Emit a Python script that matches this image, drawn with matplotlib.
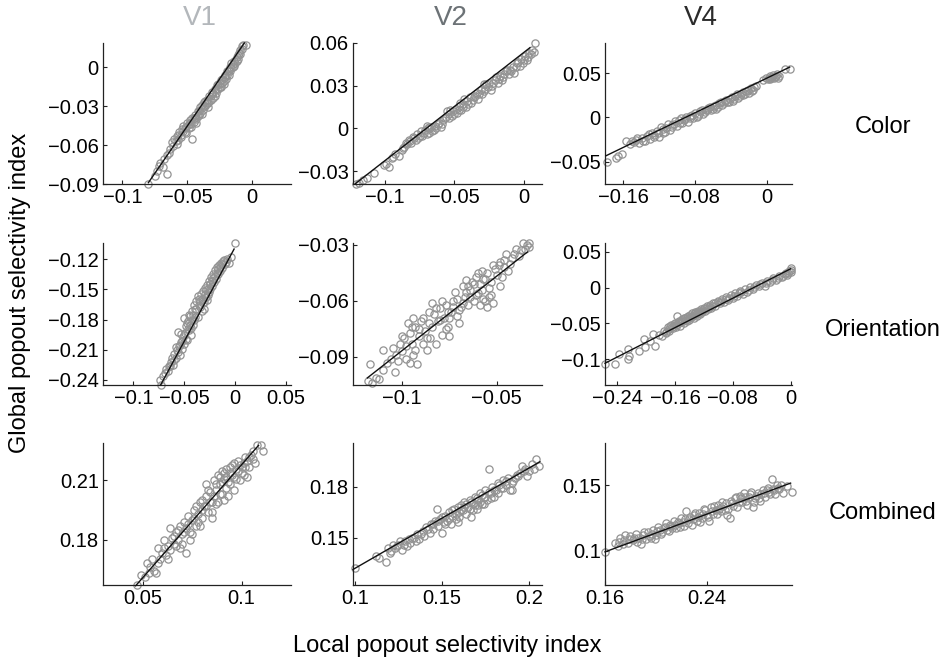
import matplotlib
matplotlib.use("Agg")
import matplotlib.pyplot as plt

plt.rcParams['font.family'] = ['Liberation Sans', 'DejaVu Sans']

# ---------------- data ----------------
areas = ["V1", "V2", "V4"]
features = ["Color", "Orientation", "Combined"]
area_colors = ["#b3b7bb", "#6c7276", "#2b2b2b"]

v1_color = [(-0.080,-0.090),(-0.075,-0.084),(-0.073,-0.080),(-0.072,-0.076),(-0.071,-0.074),(-0.069,-0.077),(-0.066,-0.082),(-0.068,-0.071),(-0.066,-0.068),(-0.064,-0.066),(-0.063,-0.063),(-0.061,-0.061),(-0.062,-0.058),(-0.060,-0.055),(-0.058,-0.053),(-0.057,-0.056),(-0.056,-0.050),(-0.055,-0.052),(-0.054,-0.048),(-0.053,-0.045),(-0.052,-0.050),(-0.051,-0.046),(-0.050,-0.043),(-0.049,-0.047),(-0.048,-0.041),(-0.047,-0.044),(-0.046,-0.055),(-0.046,-0.039),(-0.045,-0.042),(-0.044,-0.037),(-0.043,-0.040),(-0.042,-0.034),(-0.041,-0.037),(-0.040,-0.031),(-0.040,-0.035),(-0.039,-0.029),(-0.038,-0.033),(-0.037,-0.027),(-0.036,-0.030),(-0.035,-0.025),(-0.034,-0.028),(-0.033,-0.022),(-0.032,-0.025),(-0.031,-0.019),(-0.030,-0.024),(-0.029,-0.017),(-0.028,-0.020),(-0.027,-0.014),(-0.026,-0.017),(-0.025,-0.012),(-0.024,-0.015),(-0.023,-0.009),(-0.022,-0.011),(-0.021,-0.006),(-0.020,-0.009),(-0.019,-0.003),(-0.018,-0.006),(-0.017,0.000),(-0.016,-0.001),(-0.015,0.002),(-0.015,0.000),(-0.014,0.005),(-0.013,0.003),(-0.012,0.008),(-0.011,0.006),(-0.010,0.011),(-0.009,0.013),(-0.008,0.016),(-0.007,0.017),(-0.005,0.017)]
v1_color_b = [(-0.059,-0.057),(-0.057,-0.052),(-0.055,-0.054),(-0.053,-0.049),(-0.051,-0.051),(-0.049,-0.044),(-0.047,-0.046),(-0.045,-0.039),(-0.043,-0.043),(-0.041,-0.034),(-0.039,-0.036),(-0.037,-0.030),(-0.035,-0.028),(-0.033,-0.026),(-0.031,-0.021),(-0.029,-0.022),(-0.027,-0.017),(-0.025,-0.015),(-0.023,-0.012),(-0.021,-0.008),(-0.019,-0.006),(-0.017,-0.003),(-0.016,0.003),(-0.014,0.001),(-0.012,0.005),(-0.011,0.009),(-0.009,0.010),(-0.008,0.014),(-0.044,-0.039),(-0.048,-0.043),(-0.036,-0.026),(-0.030,-0.020),(-0.034,-0.031),(-0.026,-0.013),(-0.022,-0.013),(-0.058,-0.059),(-0.052,-0.047),(-0.042,-0.038),(-0.024,-0.010),(-0.018,-0.002)]

v2_color = [(-0.121,-0.039),(-0.119,-0.038),(-0.116,-0.036),(-0.113,-0.035),(-0.108,-0.031),(-0.101,-0.026),(-0.099,-0.025),(-0.097,-0.027),(-0.095,-0.021),(-0.093,-0.018),(-0.090,-0.019),(-0.088,-0.015),(-0.086,-0.013),(-0.084,-0.011),(-0.083,-0.008),(-0.081,-0.010),(-0.079,-0.007),(-0.077,-0.004),(-0.076,-0.007),(-0.074,-0.002),(-0.073,-0.005),(-0.071,-0.001),(-0.070,-0.004),(-0.069,0.000),(-0.068,-0.003),(-0.067,0.001),(-0.066,-0.002),(-0.064,0.002),(-0.063,0.000),(-0.061,0.004),(-0.060,0.001),(-0.058,0.006),(-0.056,0.008),(-0.055,0.012),(-0.054,0.010),(-0.053,0.013),(-0.052,0.009),(-0.051,0.012),(-0.049,0.014),(-0.048,0.011),(-0.047,0.016),(-0.046,0.018),(-0.045,0.013),(-0.044,0.017),(-0.043,0.021),(-0.042,0.015),(-0.041,0.019),(-0.039,0.022),(-0.038,0.018),(-0.036,0.022),(-0.034,0.025),(-0.033,0.021),(-0.031,0.027),(-0.030,0.024),(-0.029,0.031),(-0.028,0.028),(-0.026,0.029),(-0.025,0.032),(-0.023,0.030),(-0.021,0.034),(-0.019,0.032),(-0.017,0.037),(-0.015,0.036),(-0.013,0.040),(-0.011,0.038),(-0.010,0.041),(-0.008,0.043),(-0.007,0.039),(-0.005,0.046),(-0.003,0.044),(-0.002,0.049),(0.000,0.048),(0.001,0.051),(0.003,0.050),(0.004,0.053),(0.006,0.055),(0.008,0.060)]
v2_color_b = [(-0.094,-0.020),(-0.087,-0.014),(-0.085,-0.010),(-0.082,-0.009),(-0.080,-0.006),(-0.078,-0.008),(-0.075,-0.005),(-0.072,-0.003),(-0.070,0.002),(-0.068,0.001),(-0.065,-0.001),(-0.062,0.003),(-0.059,0.003),(-0.057,0.007),(-0.054,0.007),(-0.050,0.010),(-0.047,0.013),(-0.044,0.015),(-0.040,0.017),(-0.037,0.020),(-0.035,0.023),(-0.032,0.024),(-0.029,0.026),(-0.027,0.031),(-0.024,0.027),(-0.022,0.032),(-0.020,0.036),(-0.018,0.035),(-0.016,0.034),(-0.014,0.038),(-0.012,0.041),(-0.009,0.040),(-0.006,0.043),(-0.004,0.047),(-0.001,0.046),(0.002,0.048),(0.005,0.052),(0.007,0.054)]

v4_color = [(-0.178,-0.050),(-0.168,-0.046),(-0.166,-0.043),(-0.161,-0.041),(-0.157,-0.027),(-0.152,-0.030),(-0.148,-0.028),(-0.145,-0.025),(-0.142,-0.029),(-0.139,-0.023),(-0.136,-0.026),(-0.133,-0.021),(-0.130,-0.024),(-0.128,-0.017),(-0.125,-0.020),(-0.122,-0.015),(-0.120,-0.022),(-0.118,-0.011),(-0.115,-0.017),(-0.112,-0.012),(-0.110,-0.007),(-0.108,-0.014),(-0.105,-0.009),(-0.102,-0.004),(-0.100,-0.010),(-0.097,-0.006),(-0.095,-0.001),(-0.092,-0.003),(-0.090,0.001),(-0.088,-0.005),(-0.085,0.002),(-0.082,-0.001),(-0.080,0.005),(-0.077,0.002),(-0.074,0.007),(-0.071,0.004),(-0.068,0.009),(-0.065,0.011),(-0.062,0.008),(-0.059,0.013),(-0.056,0.010),(-0.053,0.016),(-0.050,0.014),(-0.047,0.019),(-0.044,0.017),(-0.041,0.021),(-0.038,0.019),(-0.035,0.024),(-0.032,0.022),(-0.029,0.027),(-0.026,0.025),(-0.023,0.030),(-0.020,0.028),(-0.018,0.033),(-0.015,0.031),(-0.012,0.035),(-0.004,0.042),(-0.001,0.045),(0.001,0.043),(0.003,0.047),(0.005,0.045),(0.007,0.048),(0.009,0.046),(0.011,0.049),(0.013,0.047),(0.020,0.055),(0.026,0.055)]
v4_color_b = [(-0.150,-0.027),(-0.144,-0.023),(-0.138,-0.027),(-0.131,-0.019),(-0.126,-0.022),(-0.121,-0.018),(-0.116,-0.013),(-0.113,-0.016),(-0.106,-0.011),(-0.103,-0.007),(-0.098,-0.003),(-0.094,-0.006),(-0.091,-0.002),(-0.086,-0.001),(-0.083,0.003),(-0.078,0.000),(-0.075,0.004),(-0.072,0.008),(-0.069,0.006),(-0.066,0.008),(-0.063,0.012),(-0.060,0.010),(-0.057,0.014),(-0.054,0.012),(-0.051,0.017),(-0.048,0.016),(-0.045,0.020),(-0.042,0.018),(-0.039,0.023),(-0.036,0.021),(-0.033,0.026),(-0.030,0.024),(-0.027,0.029),(-0.024,0.027),(-0.021,0.031),(-0.017,0.030),(-0.014,0.034),(0.004,0.043),(0.006,0.046),(0.008,0.044),(0.010,0.047),(0.012,0.045),(0.002,0.045)]

v1_orient = [(-0.073,-0.245),(-0.074,-0.240),(-0.071,-0.236),(-0.069,-0.233),(-0.068,-0.229),(-0.066,-0.231),(-0.065,-0.226),(-0.063,-0.222),(-0.062,-0.218),(-0.061,-0.225),(-0.060,-0.214),(-0.058,-0.218),(-0.057,-0.210),(-0.056,-0.192),(-0.055,-0.206),(-0.054,-0.215),(-0.053,-0.202),(-0.052,-0.209),(-0.051,-0.197),(-0.050,-0.178),(-0.050,-0.204),(-0.049,-0.193),(-0.048,-0.186),(-0.047,-0.200),(-0.046,-0.181),(-0.045,-0.190),(-0.044,-0.176),(-0.043,-0.195),(-0.042,-0.172),(-0.041,-0.185),(-0.040,-0.166),(-0.040,-0.180),(-0.039,-0.170),(-0.038,-0.162),(-0.037,-0.177),(-0.036,-0.160),(-0.035,-0.168),(-0.034,-0.155),(-0.033,-0.172),(-0.032,-0.152),(-0.031,-0.163),(-0.030,-0.149),(-0.029,-0.158),(-0.028,-0.146),(-0.027,-0.156),(-0.026,-0.142),(-0.025,-0.150),(-0.024,-0.138),(-0.023,-0.147),(-0.022,-0.135),(-0.021,-0.143),(-0.020,-0.131),(-0.019,-0.140),(-0.018,-0.128),(-0.017,-0.135),(-0.016,-0.126),(-0.015,-0.132),(-0.014,-0.124),(-0.013,-0.129),(-0.012,-0.122),(-0.010,-0.125),(-0.008,-0.120),(-0.006,-0.124),(-0.004,-0.118),(0.000,-0.104)]
v1_orient_b = [(-0.064,-0.226),(-0.060,-0.220),(-0.056,-0.212),(-0.054,-0.205),(-0.052,-0.201),(-0.050,-0.195),(-0.048,-0.199),(-0.046,-0.189),(-0.044,-0.185),(-0.042,-0.180),(-0.041,-0.175),(-0.039,-0.177),(-0.038,-0.170),(-0.036,-0.166),(-0.035,-0.162),(-0.033,-0.160),(-0.032,-0.164),(-0.030,-0.155),(-0.029,-0.151),(-0.027,-0.150),(-0.026,-0.153),(-0.025,-0.145),(-0.023,-0.142),(-0.022,-0.139),(-0.020,-0.137),(-0.018,-0.134),(-0.017,-0.130),(-0.015,-0.128),(-0.013,-0.125),(-0.011,-0.121),(-0.009,-0.123),(-0.047,-0.183),(-0.043,-0.188),(-0.037,-0.157),(-0.031,-0.170),(-0.028,-0.161),(-0.045,-0.175),(-0.053,-0.194),(-0.058,-0.207)]

v2_orient = [(-0.118,-0.103),(-0.116,-0.104),(-0.114,-0.101),(-0.117,-0.094),(-0.112,-0.102),(-0.110,-0.097),(-0.110,-0.086),(-0.106,-0.091),(-0.105,-0.085),(-0.104,-0.098),(-0.103,-0.089),(-0.101,-0.083),(-0.100,-0.087),(-0.099,-0.080),(-0.098,-0.091),(-0.097,-0.072),(-0.096,-0.077),(-0.096,-0.093),(-0.095,-0.083),(-0.094,-0.069),(-0.093,-0.074),(-0.093,-0.086),(-0.092,-0.094),(-0.091,-0.079),(-0.090,-0.071),(-0.089,-0.083),(-0.088,-0.076),(-0.087,-0.086),(-0.086,-0.072),(-0.085,-0.080),(-0.084,-0.061),(-0.083,-0.067),(-0.082,-0.083),(-0.081,-0.071),(-0.080,-0.064),(-0.079,-0.078),(-0.078,-0.069),(-0.077,-0.062),(-0.076,-0.074),(-0.075,-0.079),(-0.074,-0.066),(-0.073,-0.060),(-0.072,-0.055),(-0.071,-0.068),(-0.070,-0.072),(-0.069,-0.063),(-0.068,-0.052),(-0.067,-0.058),(-0.066,-0.049),(-0.065,-0.062),(-0.064,-0.054),(-0.063,-0.050),(-0.062,-0.060),(-0.061,-0.047),(-0.060,-0.056),(-0.059,-0.051),(-0.058,-0.044),(-0.057,-0.059),(-0.056,-0.048),(-0.055,-0.063),(-0.054,-0.053),(-0.053,-0.057),(-0.052,-0.041),(-0.052,-0.061),(-0.050,-0.046),(-0.048,-0.039),(-0.048,-0.052),(-0.047,-0.047),(-0.046,-0.042),(-0.045,-0.035),(-0.044,-0.044),(-0.042,-0.037),(-0.040,-0.032),(-0.038,-0.036),(-0.036,-0.029),(-0.034,-0.030),(-0.033,-0.031)]
v2_orient_b = [(-0.108,-0.093),(-0.102,-0.092),(-0.100,-0.079),(-0.098,-0.084),(-0.095,-0.074),(-0.094,-0.089),(-0.091,-0.075),(-0.089,-0.069),(-0.087,-0.080),(-0.086,-0.066),(-0.084,-0.074),(-0.082,-0.064),(-0.080,-0.070),(-0.079,-0.060),(-0.077,-0.075),(-0.076,-0.066),(-0.075,-0.069),(-0.073,-0.063),(-0.071,-0.059),(-0.070,-0.065),(-0.068,-0.061),(-0.066,-0.055),(-0.065,-0.052),(-0.064,-0.058),(-0.062,-0.051),(-0.061,-0.057),(-0.060,-0.045),(-0.059,-0.062),(-0.058,-0.054),(-0.057,-0.048),(-0.056,-0.060),(-0.055,-0.045),(-0.054,-0.058),(-0.053,-0.050),(-0.051,-0.043),(-0.049,-0.041),(-0.046,-0.038),(-0.043,-0.040),(-0.041,-0.035),(-0.037,-0.033),(-0.035,-0.032),(-0.033,-0.029)]

v4_orient = [(-0.257,-0.107),(-0.243,-0.106),(-0.237,-0.093),(-0.225,-0.099),(-0.224,-0.096),(-0.225,-0.086),(-0.210,-0.088),(-0.203,-0.071),(-0.201,-0.083),(-0.195,-0.074),(-0.190,-0.065),(-0.188,-0.082),(-0.182,-0.066),(-0.178,-0.068),(-0.175,-0.060),(-0.172,-0.064),(-0.170,-0.055),(-0.168,-0.060),(-0.165,-0.052),(-0.163,-0.057),(-0.160,-0.050),(-0.158,-0.055),(-0.157,-0.040),(-0.155,-0.047),(-0.153,-0.053),(-0.150,-0.044),(-0.148,-0.050),(-0.146,-0.042),(-0.144,-0.047),(-0.142,-0.039),(-0.140,-0.045),(-0.138,-0.041),(-0.136,-0.036),(-0.134,-0.043),(-0.132,-0.034),(-0.130,-0.039),(-0.128,-0.032),(-0.126,-0.037),(-0.124,-0.030),(-0.122,-0.034),(-0.120,-0.028),(-0.118,-0.033),(-0.116,-0.026),(-0.114,-0.030),(-0.112,-0.024),(-0.110,-0.028),(-0.107,-0.021),(-0.104,-0.025),(-0.101,-0.018),(-0.098,-0.022),(-0.095,-0.016),(-0.092,-0.020),(-0.089,-0.013),(-0.086,-0.017),(-0.083,-0.010),(-0.080,-0.014),(-0.077,-0.008),(-0.074,-0.011),(-0.070,-0.005),(-0.066,-0.009),(-0.063,-0.002),(-0.060,-0.006),(-0.056,0.001),(-0.052,-0.002),(-0.048,0.004),(-0.044,0.002),(-0.040,0.007),(-0.036,0.003),(-0.032,0.010),(-0.028,0.008),(-0.024,0.013),(-0.020,0.011),(-0.016,0.016),(-0.012,0.015),(-0.008,0.019),(-0.005,0.018),(-0.002,0.023),(0.000,0.025),(0.001,0.027)]
v4_orient_b = [(-0.173,-0.062),(-0.169,-0.058),(-0.167,-0.054),(-0.164,-0.055),(-0.162,-0.051),(-0.159,-0.052),(-0.156,-0.048),(-0.154,-0.050),(-0.152,-0.046),(-0.149,-0.047),(-0.147,-0.043),(-0.145,-0.045),(-0.143,-0.041),(-0.141,-0.042),(-0.139,-0.038),(-0.137,-0.040),(-0.135,-0.039),(-0.133,-0.036),(-0.131,-0.037),(-0.129,-0.034),(-0.127,-0.035),(-0.125,-0.033),(-0.121,-0.031),(-0.117,-0.029),(-0.113,-0.027),(-0.109,-0.025),(-0.105,-0.022),(-0.100,-0.020),(-0.096,-0.019),(-0.090,-0.016),(-0.085,-0.014),(-0.079,-0.011),(-0.072,-0.008),(-0.068,-0.006),(-0.058,-0.003),(-0.050,0.001),(-0.042,0.005),(-0.034,0.007),(-0.026,0.011),(-0.018,0.013),(-0.010,0.017),(-0.006,0.020),(-0.003,0.021),(0.000,0.022)]

v1_comb = [(0.047,0.157),(0.049,0.162),(0.051,0.161),(0.052,0.168),(0.054,0.166),(0.055,0.170),(0.056,0.164),(0.057,0.163),(0.058,0.176),(0.059,0.170),(0.060,0.173),(0.061,0.180),(0.062,0.172),(0.063,0.177),(0.064,0.186),(0.064,0.175),(0.065,0.181),(0.066,0.178),(0.067,0.184),(0.068,0.180),(0.069,0.176),(0.069,0.187),(0.070,0.183),(0.071,0.189),(0.072,0.173),(0.072,0.186),(0.073,0.192),(0.074,0.184),(0.075,0.190),(0.076,0.195),(0.077,0.187),(0.078,0.193),(0.079,0.199),(0.080,0.191),(0.081,0.197),(0.082,0.208),(0.082,0.202),(0.083,0.194),(0.084,0.204),(0.085,0.191),(0.085,0.199),(0.086,0.210),(0.087,0.205),(0.088,0.213),(0.088,0.199),(0.089,0.208),(0.090,0.215),(0.090,0.203),(0.091,0.211),(0.092,0.216),(0.093,0.202),(0.093,0.209),(0.094,0.214),(0.095,0.218),(0.096,0.205),(0.096,0.212),(0.097,0.216),(0.098,0.220),(0.099,0.210),(0.100,0.214),(0.101,0.219),(0.102,0.222),(0.103,0.212),(0.104,0.217),(0.105,0.223),(0.106,0.225),(0.107,0.219),(0.108,0.228),(0.110,0.228),(0.111,0.225)]
v1_comb_b = [(0.053,0.163),(0.058,0.168),(0.061,0.176),(0.063,0.170),(0.066,0.182),(0.068,0.185),(0.070,0.178),(0.071,0.184),(0.073,0.188),(0.074,0.180),(0.076,0.191),(0.077,0.197),(0.078,0.189),(0.080,0.195),(0.080,0.200),(0.082,0.197),(0.083,0.205),(0.084,0.199),(0.086,0.202),(0.087,0.208),(0.087,0.198),(0.089,0.212),(0.089,0.203),(0.090,0.209),(0.091,0.214),(0.092,0.206),(0.092,0.212),(0.094,0.217),(0.094,0.208),(0.095,0.213),(0.096,0.219),(0.097,0.211),(0.098,0.215),(0.099,0.218),(0.100,0.217),(0.101,0.213),(0.102,0.217),(0.103,0.220),(0.104,0.222),(0.106,0.221),(0.091,0.200),(0.085,0.194),(0.079,0.187),(0.075,0.183),(0.067,0.177)]

v2_comb = [(0.100,0.132),(0.112,0.139),(0.114,0.138),(0.118,0.136),(0.119,0.144),(0.121,0.142),(0.122,0.146),(0.124,0.145),(0.126,0.148),(0.127,0.143),(0.128,0.146),(0.130,0.145),(0.131,0.149),(0.132,0.147),(0.134,0.150),(0.136,0.152),(0.137,0.149),(0.139,0.154),(0.140,0.151),(0.141,0.156),(0.143,0.153),(0.144,0.158),(0.145,0.155),(0.146,0.160),(0.147,0.167),(0.148,0.157),(0.149,0.161),(0.150,0.153),(0.151,0.159),(0.152,0.163),(0.153,0.160),(0.154,0.165),(0.155,0.158),(0.156,0.163),(0.157,0.167),(0.158,0.161),(0.159,0.159),(0.160,0.165),(0.161,0.169),(0.162,0.166),(0.163,0.171),(0.164,0.164),(0.165,0.168),(0.166,0.172),(0.167,0.162),(0.168,0.170),(0.169,0.174),(0.170,0.167),(0.171,0.172),(0.172,0.176),(0.173,0.170),(0.174,0.174),(0.175,0.178),(0.176,0.172),(0.177,0.190),(0.178,0.176),(0.179,0.180),(0.180,0.174),(0.181,0.178),(0.182,0.182),(0.184,0.179),(0.185,0.184),(0.187,0.181),(0.188,0.185),(0.189,0.178),(0.190,0.178),(0.191,0.183),(0.193,0.187),(0.195,0.188),(0.196,0.192),(0.198,0.190),(0.200,0.189),(0.202,0.193),(0.204,0.196),(0.206,0.192)]
v2_comb_b = [(0.120,0.141),(0.123,0.144),(0.125,0.146),(0.129,0.148),(0.133,0.150),(0.135,0.148),(0.138,0.152),(0.142,0.155),(0.145,0.158),(0.148,0.160),(0.150,0.162),(0.152,0.158),(0.154,0.161),(0.156,0.166),(0.158,0.164),(0.159,0.168),(0.160,0.162),(0.161,0.166),(0.163,0.168),(0.164,0.170),(0.166,0.167),(0.167,0.171),(0.168,0.166),(0.169,0.169),(0.170,0.173),(0.171,0.169),(0.172,0.171),(0.173,0.175),(0.174,0.170),(0.175,0.174),(0.177,0.177),(0.178,0.173),(0.180,0.178),(0.182,0.176),(0.183,0.181),(0.185,0.179),(0.187,0.183),(0.190,0.182),(0.192,0.185),(0.194,0.186),(0.197,0.189),(0.199,0.186),(0.203,0.190)]

v4_comb = [(0.160,0.099),(0.168,0.106),(0.170,0.104),(0.172,0.110),(0.175,0.108),(0.176,0.112),(0.178,0.106),(0.180,0.111),(0.182,0.108),(0.184,0.113),(0.186,0.110),(0.188,0.105),(0.190,0.112),(0.192,0.109),(0.194,0.114),(0.196,0.110),(0.198,0.116),(0.200,0.112),(0.202,0.118),(0.204,0.113),(0.206,0.117),(0.208,0.121),(0.210,0.115),(0.212,0.119),(0.214,0.123),(0.216,0.117),(0.218,0.121),(0.220,0.125),(0.222,0.119),(0.224,0.130),(0.226,0.124),(0.228,0.120),(0.230,0.127),(0.232,0.123),(0.234,0.129),(0.236,0.125),(0.238,0.132),(0.240,0.127),(0.242,0.123),(0.244,0.130),(0.246,0.134),(0.248,0.128),(0.250,0.132),(0.252,0.137),(0.254,0.131),(0.256,0.127),(0.258,0.125),(0.260,0.136),(0.262,0.140),(0.264,0.133),(0.266,0.142),(0.268,0.137),(0.270,0.141),(0.272,0.135),(0.274,0.143),(0.276,0.133),(0.278,0.140),(0.280,0.144),(0.282,0.138),(0.284,0.146),(0.286,0.141),(0.288,0.148),(0.290,0.143),(0.291,0.155),(0.293,0.146),(0.295,0.150),(0.297,0.147),(0.300,0.144),(0.303,0.149),(0.307,0.145)]
v4_comb_b = [(0.171,0.107),(0.174,0.105),(0.179,0.109),(0.183,0.110),(0.185,0.107),(0.189,0.109),(0.191,0.114),(0.195,0.111),(0.197,0.113),(0.199,0.109),(0.201,0.115),(0.203,0.116),(0.205,0.114),(0.207,0.118),(0.209,0.116),(0.211,0.120),(0.213,0.117),(0.215,0.120),(0.217,0.122),(0.219,0.118),(0.221,0.122),(0.223,0.124),(0.225,0.121),(0.227,0.126),(0.229,0.124),(0.231,0.129),(0.233,0.126),(0.235,0.122),(0.237,0.128),(0.239,0.131),(0.241,0.126),(0.243,0.133),(0.245,0.128),(0.247,0.131),(0.249,0.135),(0.251,0.130),(0.253,0.134),(0.255,0.136),(0.257,0.132),(0.259,0.138),(0.261,0.134),(0.263,0.141),(0.265,0.137),(0.267,0.140),(0.269,0.144),(0.271,0.138),(0.273,0.141),(0.275,0.145),(0.277,0.137),(0.279,0.142),(0.281,0.140),(0.283,0.143),(0.285,0.144),(0.287,0.146),(0.289,0.145),(0.292,0.147),(0.294,0.143),(0.296,0.148),(0.298,0.150)]

# fitted regression lines: (x0, x1), (y0, y1)
fit_v1_color = [(-0.080, -0.006), (-0.089, 0.0185)]
fit_v2_color = [(-0.1216, 0.0043), (-0.039, 0.0567)]
fit_v4_color = [(-0.179, 0.0254), (-0.0432, 0.0568)]
fit_v1_orient = [(-0.0733, -0.001), (-0.245, -0.110)]
fit_v2_orient = [(-0.1184, -0.0337), (-0.1012, -0.0338)]
fit_v4_orient = [(-0.257, 0.0), (-0.1056, 0.0264)]
fit_v1_comb = [(0.0465, 0.1086), (0.1566, 0.2278)]
fit_v2_comb = [(0.099, 0.2063), (0.1314, 0.1945)]
fit_v4_comb = [(0.16, 0.3059), (0.0992, 0.1515)]

# axis limits and ticks
xlims = [[(-0.115, 0.03), (-0.123, 0.013), (-0.18, 0.028)],
         [(-0.13, 0.055), (-0.126, -0.026), (-0.257, 0.002)],
         [(0.030, 0.125), (0.099, 0.2075), (0.16, 0.307)]]
ylims = [[(-0.09, 0.0185), (-0.039, 0.06), (-0.075, 0.084)],
         [(-0.245, -0.104), (-0.105, -0.029), (-0.136, 0.0625)],
         [(0.157, 0.229), (0.1223, 0.2055), (0.074, 0.182)]]
xticks = [[[-0.1, -0.05, 0], [-0.1, -0.05, 0], [-0.16, -0.08, 0]],
          [[-0.1, -0.05, 0, 0.05], [-0.1, -0.05], [-0.24, -0.16, -0.08, 0]],
          [[0.05, 0.1], [0.1, 0.15, 0.2], [0.16, 0.24]]]
yticks = [[[-0.09, -0.06, -0.03, 0], [-0.03, 0, 0.03, 0.06], [-0.05, 0, 0.05]],
          [[-0.24, -0.21, -0.18, -0.15, -0.12], [-0.09, -0.06, -0.03], [-0.1, -0.05, 0, 0.05]],
          [[0.18, 0.21], [0.15, 0.18], [0.1, 0.15]]]

panels = [[v1_color + v1_color_b, v2_color + v2_color_b, v4_color + v4_color_b],
          [v1_orient + v1_orient_b, v2_orient + v2_orient_b, v4_orient + v4_orient_b],
          [v1_comb + v1_comb_b, v2_comb + v2_comb_b, v4_comb + v4_comb_b]]
fits = [[fit_v1_color, fit_v2_color, fit_v4_color],
        [fit_v1_orient, fit_v2_orient, fit_v4_orient],
        [fit_v1_comb, fit_v2_comb, fit_v4_comb]]

# ---------------- layout ----------------
W, H = 947, 661
fig = plt.figure(figsize=(W / 100, H / 100), dpi=100)

col_px = [(103, 291), (353, 542), (605, 792)]
row_px = [(43, 184), (243, 385), (443, 585)]

def fmt(v):
    s = "%g" % v
    return s.replace("-", "\u2212")

for r in range(3):
    for c in range(3):
        x0, x1 = col_px[c]
        y0, y1 = row_px[r]
        ax = fig.add_axes([x0 / W, 1 - y1 / H, (x1 - x0) / W, (y1 - y0) / H])
        pts = panels[r][c]
        xs = [p[0] for p in pts]
        ys = [p[1] for p in pts]
        ax.plot(xs, ys, linestyle="none", marker="o", ms=5.2, mfc="none",
                mec="#939393", mew=0.9, clip_on=False, zorder=2)
        fx, fy = fits[r][c]
        ax.plot(fx, fy, color="#111111", lw=1.0, zorder=3, clip_on=False)
        ax.set_xlim(*xlims[r][c])
        ax.set_ylim(*ylims[r][c])
        ax.set_xticks(xticks[r][c])
        ax.set_xticklabels([fmt(v) for v in xticks[r][c]])
        ax.set_yticks(yticks[r][c])
        ax.set_yticklabels([fmt(v) for v in yticks[r][c]])
        for s in ("top", "right"):
            ax.spines[s].set_visible(False)
        for s in ("left", "bottom"):
            ax.spines[s].set_linewidth(0.9)
            ax.spines[s].set_color("#222222")
        ax.tick_params(direction="in", length=3, width=0.8, labelsize=14.5,
                       colors="#222222", labelcolor="black", pad=3)
        ax.set_facecolor("none")

# column titles
for c in range(3):
    x0, x1 = col_px[c]
    fig.text((x0 + x1) / 2 / W + 0.003, 1 - 18 / H, areas[c], ha="center", va="center",
             fontsize=20, color=area_colors[c])

# row labels
row_y = [127, 330, 513]
for r in range(3):
    fig.text(883 / W, 1 - row_y[r] / H, features[r], ha="center", va="center",
             fontsize=17, color="black")

fig.text(447 / W, 1 - 646 / H, "Local popout selectivity index", ha="center",
         va="center", fontsize=17)
fig.text(20 / W, 1 - 293 / H, "Global popout selectivity index", ha="center",
         va="center", rotation=90, fontsize=17)

fig.savefig("out.png", dpi=100)
